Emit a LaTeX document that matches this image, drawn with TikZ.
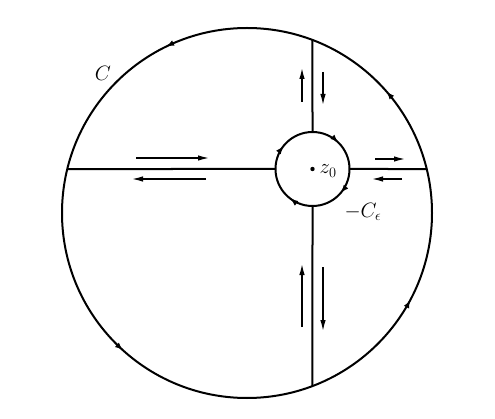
\documentclass[tikz,border=0pt]{standalone}
\usetikzlibrary{arrows.meta,decorations.markings,calc}
\begin{document}
\begin{tikzpicture}[x=1pt,y=1pt,
  curve/.style={line width=2pt},
  seg/.style={line width=2pt},
  flow/.style={line width=1.3pt,-{Latex[length=11pt,width=5.5pt]}},
  lbl/.style={font=\fontsize{20}{24}\selectfont,inner sep=1pt},
  ccw/.style={postaction={decorate},decoration={markings,
     mark=at position 0.114 with {\arrow{Latex[length=8pt,width=6pt]}},
     mark=at position 0.322 with {\arrow{Latex[length=8pt,width=6pt]}},
     mark=at position 0.633 with {\arrow{Latex[length=8pt,width=6pt]}},
     mark=at position 0.922 with {\arrow{Latex[length=8pt,width=6pt]}}}},
  cw/.style={postaction={decorate},decoration={markings,
     mark=at position 0.128 with {\arrowreversed{Latex[length=8pt,width=6pt]}},
     mark=at position 0.394 with {\arrowreversed{Latex[length=8pt,width=6pt]}},
     mark=at position 0.647 with {\arrowreversed{Latex[length=8pt,width=6pt]}},
     mark=at position 0.889 with {\arrowreversed{Latex[length=8pt,width=6pt]}}}}]
\useasboundingbox (0,0) rectangle (495,418);
\coordinate (O) at (247,205);
\coordinate (Z) at (312.5,249);
% big contour C
\draw[curve,ccw] (O) circle (185);
% small contour -C_eps
\draw[curve,cw] (Z) circle (37);
% cuts
\coordinate (Lb) at ($(O)+(166.24:185)$);
\coordinate (Rb) at ($(O)+(13.76:185)$);
\coordinate (Tb) at ($(O)+(69.27:185)$);
\coordinate (Bb) at ($(O)+(-69.27:185)$);
\coordinate (Ls) at ($(Z)+(180:37)$);
\coordinate (Rs) at ($(Z)+(0:37)$);
\coordinate (Ts) at ($(Z)+(90:37)$);
\coordinate (Bs) at ($(Z)+(-90:37)$);
\draw[seg] (Lb) -- (Ls);
\draw[seg] (Rs) -- (Rb);
\draw[seg] (Ts) -- (Tb);
\draw[seg] (Bs) -- (Bb);
% flow arrows
\draw[flow] (136,260) -- (209,260);
\draw[flow] (206,239) -- (132,239);
\draw[flow] (375,259) -- (405,259);
\draw[flow] (402,239) -- (372,239);
\draw[flow] (302,316) -- (302,350);
\draw[flow] (323,346) -- (323,313);
\draw[flow] (302,91) -- (302,154);
\draw[flow] (323,151) -- (323,87);
% centre point and labels
\fill (Z) circle (2.2);
\node[lbl,anchor=west] (z0) at ($(Z)+(6,-2)$) {$z_0$};
\node[lbl] (C) at (103,345) {$C$};
\node[lbl] (Ce) at (363,206) {$-C_\epsilon$};
\end{tikzpicture}
\end{document}
